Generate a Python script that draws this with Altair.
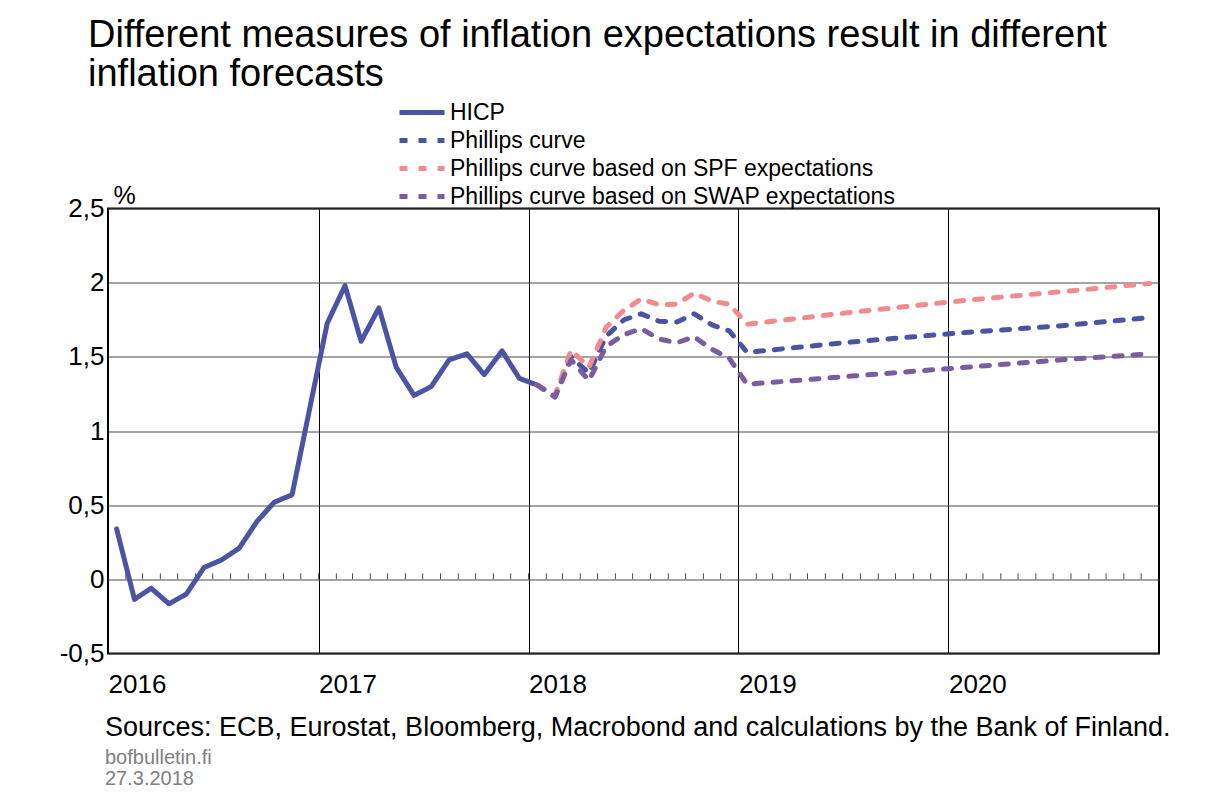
import altair as alt
import pandas as pd

FONT = "Arial, Liberation Sans, Helvetica, sans-serif"

# ---------------- data ----------------
series_names = [
    "HICP",
    "Phillips curve",
    "Phillips curve based on SPF expectations",
    "Phillips curve based on SWAP expectations",
]
series_colors = ["#4B53A3", "#4B53A3", "#F28B90", "#7A5CA2"]

hicp_dates = [f"{y}-{m:02d}-16T00:00:00" for y in (2016, 2017) for m in range(1, 13)] + ["2018-01-16T00:00:00"]
hicp_values = [0.34, -0.135, -0.06, -0.165, -0.10, 0.08, 0.13, 0.21, 0.39, 0.52, 0.57, 1.14,
               1.725, 1.98, 1.605, 1.83, 1.43, 1.24, 1.30, 1.48, 1.52, 1.38, 1.54, 1.355,
               1.31]

fc_dates = [f"2018-{m:02d}-16T00:00:00" for m in range(1, 13)] + [
    "2019-01-16T00:00:00", "2019-07-16T00:00:00", "2020-01-16T00:00:00",
    "2020-07-16T00:00:00", "2020-12-16T00:00:00"]
phillips_values = [1.31, 1.23, 1.50, 1.39, 1.64, 1.75, 1.79, 1.74, 1.735, 1.79, 1.715, 1.675,
                   1.53, 1.60, 1.66, 1.71, 1.765]
spf_values = [1.31, 1.24, 1.545, 1.43, 1.70, 1.815, 1.89, 1.85, 1.855, 1.93, 1.875, 1.855,
              1.72, 1.80, 1.875, 1.94, 1.995]
swap_values = [1.31, 1.23, 1.48, 1.34, 1.57, 1.65, 1.69, 1.62, 1.595, 1.635, 1.55, 1.49,
               1.315, 1.37, 1.425, 1.48, 1.52]

year_ticks = [2016, 2017, 2018, 2019, 2020]
y_ticks = [-0.5, 0, 0.5, 1, 1.5, 2, 2.5]

title_lines = ["Different measures of inflation expectations result in different",
               "inflation forecasts"]
source_text = "Sources: ECB, Eurostat, Bloomberg, Macrobond and calculations by the Bank of Finland."
site_text = "bofbulletin.fi"
date_text = "27.3.2018"

# ---------------- tables ----------------
rows = []
for d, v in zip(hicp_dates, hicp_values):
    rows.append({"series": series_names[0], "date": d, "value": v})
for name, vals in zip(series_names[1:], [phillips_values, spf_values, swap_values]):
    for d, v in zip(fc_dates, vals):
        rows.append({"series": name, "date": d, "value": v})
df = pd.DataFrame(rows)

month_ticks = pd.DataFrame({"date": [f"{y}-{m:02d}-01T00:00:00" for y in range(2016, 2021) for m in range(1, 13)][1:]})

W, H = 1051, 445

# legend symbol: a horizontal stroke wider than the entry box, so rows stay tight
legend = alt.Legend(
    title=None, orient="none", legendX=298.5, legendY=-111.5,
    symbolType="M-1.73,0H1.73", symbolSize=676, symbolStrokeWidth=5,
    labelFontSize=23, labelFont=FONT, labelColor="black", labelOffset=12.5,
    rowPadding=-2.8, padding=0, labelLimit=0,
)

x_enc = alt.X(
    "date:T",
    scale=alt.Scale(domain=[alt.DateTime(year=2016, month=1, date=1),
                            alt.DateTime(year=2021, month=1, date=1)]),
    axis=alt.Axis(
        values=[alt.DateTime(year=y, month=1, date=1) for y in year_ticks],
        format="%Y", title=None, labelAlign="left", labelFontSize=26, labelFont=FONT,
        labelColor="black", labelPadding=18, labelBaseline="top", ticks=False, domain=False,
        grid=True, gridColor="black", gridWidth=1, labelFlush=False,
    ),
)

y_enc = alt.Y(
    "value:Q",
    scale=alt.Scale(domain=[-0.5, 2.5], nice=False, zero=False),
    axis=alt.Axis(
        values=y_ticks, labelExpr="replace(toString(datum.value), '.', ',')",
        title="%", titleAngle=0, titleX=5, titleY=-5.5, titleAlign="left",
        titleBaseline="alphabetic", titleFontSize=25, titleFont=FONT, titleFontWeight="normal",
        titleColor="black",
        labelFontSize=26, labelFont=FONT, labelColor="black", labelPadding=4,
        ticks=False, domain=False, grid=True, gridColor="#4a4a4a", gridWidth=1,
    ),
)

lines = alt.Chart(df).mark_line(strokeWidth=5, strokeCap="round", strokeJoin="round").encode(
    x=x_enc,
    y=y_enc,
    color=alt.Color("series:N", scale=alt.Scale(domain=series_names, range=series_colors),
                    legend=legend, sort=series_names),
    strokeDash=alt.StrokeDash("series:N",
                              scale=alt.Scale(domain=series_names,
                                              range=[[1, 0], [8, 11], [8, 11], [8, 11]]),
                              legend=legend, sort=series_names),
)

ticks = alt.Chart(month_ticks).mark_tick(orient="vertical", size=6, thickness=1,
                                         color="black", yOffset=-3).encode(
    x=alt.X("date:T"),
    y=alt.datum(0),
)

def footer(text, y, size, color):
    return alt.Chart(pd.DataFrame({"t": [text]})).mark_text(
        align="left", baseline="alphabetic", fontSize=size, font=FONT, color=color
    ).encode(text="t:N", x=alt.value(-3), y=alt.value(y))

chart = alt.layer(
    ticks, lines,
    footer(source_text, 527, 27, "black"),
    footer(site_text, 555, 20, "#808080"),
    footer(date_text, 576.5, 20, "#808080"),
).properties(
    width=W, height=H,
    autosize="none",
    padding={"left": 100, "top": 200.5, "right": 60, "bottom": 140},
    title=alt.TitleParams(
        text=title_lines, anchor="start", frame="group", fontSize=38, font=FONT,
        fontWeight="normal", color="black", dx=-20, lineHeight=39, offset=3,
    ),
).configure_view(stroke="black", strokeWidth=2)

chart.save("out.html", embed_options={"renderer": "svg", "actions": False})
